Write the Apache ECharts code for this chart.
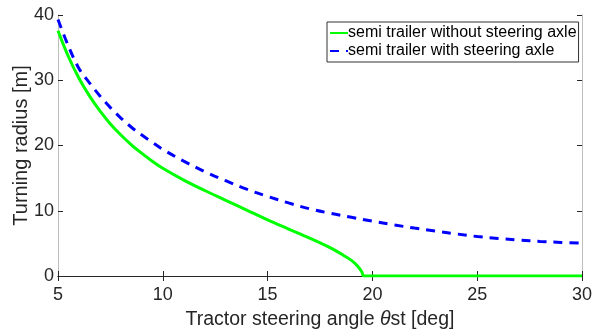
<!DOCTYPE html>
<html>
<head>
<meta charset="utf-8">
<script src="https://cdn.jsdelivr.net/npm/echarts@6/dist/echarts.min.js"></script>
<style>
  html, body { margin: 0; padding: 0; background: #fff; }
  #chart { width: 615px; height: 333px; }
</style>
</head>
<body>
<div id="chart"></div>
<script>
// steering angle [deg] and turning radius [m]
const greenAngles = [5, 5.5, 6, 6.5, 7, 7.5, 8, 8.5, 9, 9.5, 10, 11, 12, 13, 14, 15, 16, 17, 18, 18.5, 19, 19.3, 19.5, 19.6, 25, 30];
const greenRadius = [37.6, 33.6, 30.3, 27.6, 25.3, 23.3, 21.6, 20.1, 18.8, 17.6, 16.5, 14.7, 13.1, 11.6, 10.1, 8.6, 7.2, 5.8, 4.3, 3.4, 2.4, 1.5, 0.6, 0, 0, 0];
const blueAngles = [5, 5.5, 6, 6.5, 7, 7.5, 8, 8.5, 9, 9.5, 10, 11, 12, 13, 14, 15, 16, 17, 18, 19, 20, 21, 22, 23, 24, 25, 26, 27, 28, 29, 30];
const blueRadius = [39.3, 35.2, 31.8, 29.6, 27.6, 25.8, 24.2, 22.8, 21.6, 20.5, 19.4, 17.6, 16.0, 14.6, 13.3, 12.2, 11.2, 10.3, 9.6, 9.0, 8.4, 7.85, 7.35, 6.9, 6.45, 6.05, 5.75, 5.5, 5.3, 5.15, 5.05];
const seriesNames = ['semi trailer without steering axle', 'semi trailer with steering axle'];

const pairs = (xs, ys) => xs.map((x, i) => [x, ys[i]]);

const chart = echarts.init(document.getElementById('chart'));
const font = 'Liberation Sans, Arial, sans-serif';

const option = {
  animation: false,
  backgroundColor: '#fff',
  grid: { left: 58, right: 33, top: 15, bottom: 57, outerBoundsMode: 'none', containLabel: false },
  legend: {
    orient: 'vertical',
    left: 327,
    top: 22,
    padding: [3, 2, 3, 2],
    itemGap: 2,
    itemWidth: 18,
    itemHeight: 16,
    backgroundColor: '#fff',
    borderColor: '#333',
    borderWidth: 1,
    borderRadius: 0,
    itemStyle: { color: 'transparent', borderWidth: 0 },
    textStyle: { fontFamily: font, fontSize: 16, color: '#000', padding: [0, 0, 0, -5] },
    data: seriesNames
  },
  xAxis: [
    {
      type: 'value', min: 5, max: 30, interval: 5,
      position: 'bottom',
      name: 'Tractor steering angle {i|θ}st [deg]',
      nameLocation: 'middle',
      nameGap: 34,
      nameMoveOverlap: false,
      nameTextStyle: {
        fontFamily: font, fontSize: 19.5, color: '#262626',
        rich: { i: { fontFamily: font, fontSize: 19.5, fontStyle: 'italic', color: '#262626' } }
      },
      axisLine: { show: true, lineStyle: { color: '#262626', width: 1 } },
      axisTick: { show: true, inside: true, length: 5, lineStyle: { color: '#262626' } },
      axisLabel: { fontFamily: font, fontSize: 18, color: '#262626', margin: 10 },
      splitLine: { show: false }
    },
    {
      type: 'value', min: 5, max: 30, interval: 5,
      position: 'top',
      axisLine: { show: true, lineStyle: { color: '#262626', width: 1 } },
      axisTick: { show: true, inside: true, length: 5, lineStyle: { color: '#262626' } },
      axisLabel: { show: false },
      splitLine: { show: false }
    }
  ],
  yAxis: [
    {
      type: 'value', min: 0, max: 40, interval: 10,
      position: 'left',
      name: 'Turning radius [m]',
      nameLocation: 'middle',
      nameGap: 27,
      nameMoveOverlap: false,
      nameTextStyle: { fontFamily: font, fontSize: 20, color: '#262626' },
      axisLine: { show: true, lineStyle: { color: '#bdbdbd', width: 1 } },
      axisTick: { show: true, inside: true, length: 5, lineStyle: { color: '#262626' } },
      axisLabel: { fontFamily: font, fontSize: 18, color: '#262626', margin: 4 },
      splitLine: { show: false }
    },
    {
      type: 'value', min: 0, max: 40, interval: 10,
      position: 'right',
      axisLine: { show: true, lineStyle: { color: '#bdbdbd', width: 1 } },
      axisTick: { show: true, inside: true, length: 5, lineStyle: { color: '#262626' } },
      axisLabel: { show: false },
      splitLine: { show: false }
    }
  ],
  series: [
    {
      name: seriesNames[0],
      type: 'line',
      data: pairs(greenAngles, greenRadius),
      showSymbol: false,
      symbol: 'none',
      smooth: 0.35,
      lineStyle: { color: '#00ff00', width: 3 },
      itemStyle: { color: '#00ff00' },
      z: 3
    },
    {
      name: seriesNames[1],
      type: 'line',
      data: pairs(blueAngles, blueRadius),
      showSymbol: false,
      symbol: 'none',
      smooth: 0.35,
      lineStyle: { color: '#0000ff', width: 3, type: [9, 7] },
      itemStyle: { color: '#0000ff' },
      z: 4
    }
  ]
};

chart.setOption(option);
</script>
</body>
</html>
